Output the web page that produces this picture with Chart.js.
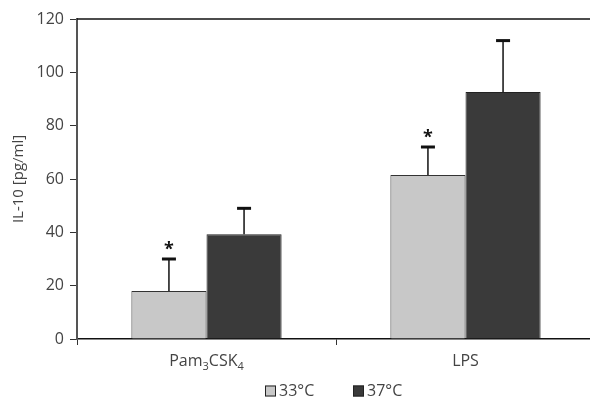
<!DOCTYPE html>
<html>
<head>
<meta charset="utf-8">
<script src="https://cdn.jsdelivr.net/npm/chart.js@4"></script>
<style>
  html, body { margin: 0; padding: 0; background: #fff; overflow: hidden; }
  #wrap { width: 596px; height: 400px; }
</style>
</head>
<body>
<div id="wrap"><canvas id="il10Chart"></canvas></div>
<script>
const categories = ["Pam3CSK4", "LPS"];
const seriesNames = ["33°C", "37°C"];
const values33 = [18, 61.5];
const errors33 = [12, 10.5];
const values37 = [39.3, 92.6];
const errors37 = [9.7, 19.3];
const significant33 = [true, true];
const yTicks = [0, 20, 40, 60, 80, 100, 120];

const FONT = "'Open Sans', 'Noto Sans', sans-serif";

// error bars (upper only) + asterisks
const errorBars = {
  id: "errorBars",
  afterDatasetsDraw(chart) {
    const ctx = chart.ctx;
    const y = chart.scales.y;
    const sets = [
      { errs: errors33, vals: values33, star: significant33 },
      { errs: errors37, vals: values37, star: [false, false] }
    ];
    sets.forEach((s, di) => {
      chart.getDatasetMeta(di).data.forEach((bar, i) => {
        const top = y.getPixelForValue(s.vals[i] + s.errs[i]);
        const base = y.getPixelForValue(s.vals[i]);
        ctx.save();
        ctx.strokeStyle = "#111";
        ctx.lineWidth = 1.5;
        ctx.beginPath();
        ctx.moveTo(bar.x, base);
        ctx.lineTo(bar.x, top);
        ctx.stroke();
        ctx.lineWidth = 3;
        ctx.beginPath();
        ctx.moveTo(bar.x - 7, top);
        ctx.lineTo(bar.x + 7, top);
        ctx.stroke();
        if (s.star[i]) {
          ctx.fillStyle = "#111";
          ctx.font = "bold 18px " + FONT;
          ctx.textAlign = "center";
          ctx.textBaseline = "middle";
          ctx.fillText("*", bar.x, top - 9);
        }
        ctx.restore();
      });
    });
  }
};

// top frame line, category labels with subscripts, legend
const frameAndLabels = {
  id: "frameAndLabels",
  afterDraw(chart) {
    const ctx = chart.ctx;
    const a = chart.chartArea;
    const x = chart.scales.x;
    ctx.save();
    ctx.strokeStyle = "#111";
    ctx.lineWidth = 1.5;
    ctx.beginPath();
    ctx.moveTo(a.left, a.top);
    ctx.lineTo(a.right + 5, a.top);
    ctx.stroke();

    ctx.fillStyle = "#444";
    ctx.textBaseline = "alphabetic";
    const big = "16px " + FONT, small = "11px " + FONT;
    categories.forEach((name, i) => {
      const parts = name.match(/\d+|\D+/g);
      let w = 0;
      parts.forEach(p => { ctx.font = /\d/.test(p) ? small : big; w += ctx.measureText(p).width; });
      let px = x.getPixelForTick(i) - w / 2;
      const baseY = a.bottom + 27;
      parts.forEach(p => {
        const sub = /\d/.test(p);
        ctx.font = sub ? small : big;
        ctx.textAlign = "left";
        ctx.fillText(p, px, sub ? baseY + 4 : baseY);
        px += ctx.measureText(p).width;
      });
    });

    // legend
    const ds = chart.data.datasets;
    const boxX = [265, 353];
    const cy = 391;
    ds.forEach((d, i) => {
      ctx.fillStyle = d.backgroundColor;
      ctx.fillRect(boxX[i], cy - 5.5, 11, 11);
      ctx.strokeStyle = "#222";
      ctx.lineWidth = 1;
      ctx.strokeRect(boxX[i] + 0.5, cy - 5.5 + 0.5, 10, 10);
      ctx.fillStyle = "#444";
      ctx.font = big;
      ctx.textAlign = "left";
      ctx.textBaseline = "middle";
      ctx.fillText(d.label, boxX[i] + 14, cy);
    });
    ctx.restore();
  }
};

new Chart(document.getElementById("il10Chart"), {
  type: "bar",
  data: {
    labels: categories,
    datasets: [
      { label: seriesNames[0], data: values33, backgroundColor: "#c8c8c8", borderColor: "#333", borderWidth: 1 },
      { label: seriesNames[1], data: values37, backgroundColor: "#3a3a3a", borderColor: "#222", borderWidth: 1 }
    ]
  },
  options: {
    responsive: true,
    maintainAspectRatio: false,
    animation: false,
    layout: { padding: { top: 19, right: 1, left: 0, bottom: 55 } },
    datasets: { bar: { categoryPercentage: 0.58, barPercentage: 1 } },
    plugins: {
      legend: { display: false },
      tooltip: { enabled: false }
    },
    scales: {
      x: {
        offset: true,
        grid: { drawOnChartArea: false, drawTicks: true, tickLength: 6, color: "#333", offset: true },
        border: { color: "#111", width: 1.5 },
        ticks: { display: false },
        afterFit: s => { s.height = 6; }
      },
      y: {
        min: 0,
        max: 120,
        afterBuildTicks: s => { s.ticks = yTicks.map(v => ({ value: v })); },
        grid: { drawOnChartArea: false, tickLength: 7, color: "#333" },
        border: { color: "#555", width: 2 },
        ticks: { color: "#444", padding: 6, font: { family: FONT, size: 16 } },
        title: { display: true, text: "IL-10 [pg/ml]", color: "#444", font: { family: FONT, size: 15 }, padding: { top: 10, bottom: 0 } },
        afterFit: s => { s.width = 77; }
      }
    }
  },
  plugins: [errorBars, frameAndLabels]
});
</script>
</body>
</html>
